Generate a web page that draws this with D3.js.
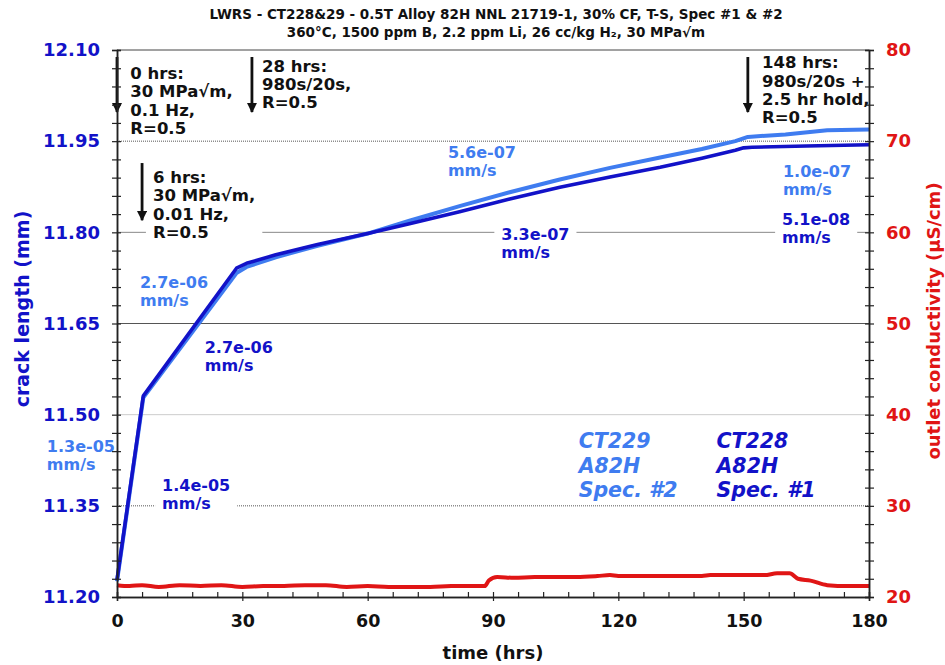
<!DOCTYPE html>
<html lang="en">
<head>
<meta charset="UTF-8">
<title>Crack length vs time</title>
<script src="https://d3js.org/d3.v7.min.js"></script>
<style>
  body { margin: 0; background: #fff; }
  svg text { font-family: "DejaVu Sans", Verdana, sans-serif; font-weight: bold; }
</style>
</head>
<body>
<div id="chart"></div>
<script>
// crack length, CT228 Spec #1 (dark blue)
const spec1Hours = [0, 6.3, 28.6, 31, 38, 48, 60, 70, 82, 94, 106, 118, 130, 140, 148, 150, 152, 165, 180];
const spec1Crack = [11.228, 11.531, 11.741, 11.749, 11.763, 11.780, 11.798, 11.814, 11.834, 11.855, 11.874, 11.891, 11.907, 11.922, 11.935, 11.939, 11.940, 11.942, 11.944];
// crack length, CT229 Spec #2 (light blue)
const spec2Hours = [0, 6.3, 28.6, 31, 38, 48, 60, 70, 82, 94, 106, 118, 130, 140, 148, 151, 160, 170, 180];
const spec2Crack = [11.226, 11.528, 11.733, 11.743, 11.759, 11.778, 11.798, 11.819, 11.843, 11.866, 11.887, 11.906, 11.923, 11.937, 11.950, 11.957, 11.961, 11.968, 11.969];
// outlet conductivity (red)
const condHours = [0, 3, 6, 10, 15, 20, 25, 30, 35, 40, 45, 50, 55, 60, 65, 70, 75, 80, 85, 88, 89, 91, 95, 100, 110, 115, 118, 120, 130, 140, 142, 150, 155, 158, 161, 163, 166, 170, 175, 180];
const condValues = [21.3, 21.2, 21.3, 21.1, 21.3, 21.2, 21.3, 21.1, 21.2, 21.2, 21.3, 21.3, 21.1, 21.2, 21.1, 21.1, 21.1, 21.2, 21.2, 21.2, 21.8, 22.2, 22.1, 22.2, 22.2, 22.3, 22.4, 22.3, 22.3, 22.3, 22.4, 22.4, 22.4, 22.6, 22.6, 22.0, 21.8, 21.3, 21.2, 21.2];

const crackTicks = [11.20, 11.35, 11.50, 11.65, 11.80, 11.95, 12.10];
const condTicks = [20, 30, 40, 50, 60, 70, 80];
const timeTicks = [0, 30, 60, 90, 120, 150, 180];

const titleLines = ["LWRS - CT228&29 - 0.5T Alloy 82H NNL 21719-1, 30% CF, T-S, Spec #1 & #2",
                    "360°C, 1500 ppm B, 2.2 ppm Li, 26 cc/kg H₂, 30 MPa√m"];

// load change notes: arrow hour, arrow top / tip (crack value), text hour and first baseline
const loadNotes = [
  { hour: 0, top: 12.0885, tip: 11.998, tx: 3.2, ty: 12.052, lines: ["0 hrs:", "30 MPa√m,", "0.1 Hz,", "R=0.5"] },
  { hour: 6.0, top: 11.914, tip: 11.820, tx: 8.6, ty: 11.881, lines: ["6 hrs:", "30 MPa√m,", "0.01 Hz,", "R=0.5"] },
  { hour: 32.3, top: 12.0885, tip: 11.998, tx: 34.7, ty: 12.064, lines: ["28 hrs:", "980s/20s,", "R=0.5"] },
  { hour: 151.0, top: 12.0885, tip: 11.998, tx: 154.4, ty: 12.070, lines: ["148 hrs:", "980s/20s +", "2.5 hr hold,", "R=0.5"] }
];

// crack growth rate labels: hour, crack value (first baseline), series
const rateNotes = [
  { hour: -16.8, val: 11.439, text: ["1.3e-05", "mm/s"], s: 2 },
  { hour: 10.8, val: 11.374, text: ["1.4e-05", "mm/s"], s: 1 },
  { hour: 5.5, val: 11.708, text: ["2.7e-06", "mm/s"], s: 2 },
  { hour: 21, val: 11.601, text: ["2.7e-06", "mm/s"], s: 1 },
  { hour: 79.2, val: 11.922, text: ["5.6e-07", "mm/s"], s: 2 },
  { hour: 92, val: 11.787, text: ["3.3e-07", "mm/s"], s: 1 },
  { hour: 159.4, val: 11.891, text: ["1.0e-07", "mm/s"], s: 2 },
  { hour: 159.2, val: 11.812, text: ["5.1e-08", "mm/s"], s: 1 }
];

const legendNotes = [
  { hour: 110.5, val: 11.445, text: ["CT229", "A82H", "Spec. #2"], s: 2 },
  { hour: 143.5, val: 11.445, text: ["CT228", "A82H", "Spec. #1"], s: 1 }
];

const DARK = "#1212c8";
const LIGHT = "#3f7cf0";
const RED = "#e01515";
const seriesColor = s => s === 1 ? DARK : LIGHT;

const W = 945, H = 665;
const margin = { top: 50, right: 76, bottom: 68, left: 117 };
const w = W - margin.left - margin.right;
const h = H - margin.top - margin.bottom;

const svg = d3.select("#chart").append("svg").attr("width", W).attr("height", H);
const g = svg.append("g").attr("transform", `translate(${margin.left},${margin.top})`);

const x = d3.scaleLinear().domain([0, 180]).range([0, w]);
const y = d3.scaleLinear().domain([11.20, 12.10]).range([h, 0]);
const y2 = d3.scaleLinear().domain([20, 80]).range([h, 0]);

// title
svg.append("g").selectAll("text").data(titleLines).join("text")
  .attr("x", 496).attr("y", (d, i) => 19 + i * 18)
  .attr("text-anchor", "middle").style("font-size", "13.5px").attr("fill", "#111")
  .text(d => d);

// grid lines
const gridStyle = {
  "12.1": { c: "#444", dash: null },
  "11.95": { c: "#555", dash: "1,1" },
  "11.8": { c: "#888", dash: null },
  "11.65": { c: "#555", dash: null },
  "11.5": { c: "#ccc", dash: null },
  "11.35": { c: "#555", dash: "1,1" }
};
g.append("g").selectAll("line").data(crackTicks.slice(1)).join("line")
  .attr("x1", 0).attr("x2", w)
  .attr("y1", d => y(d)).attr("y2", d => y(d))
  .attr("stroke", d => gridStyle[String(+d.toFixed(2))].c)
  .attr("stroke-dasharray", d => gridStyle[String(+d.toFixed(2))].dash)
  .attr("stroke-width", 1);

// text block with a white backing box so grid lines break around it
function textBlock(parent, px, py, lines, opts) {
  const grp = parent.append("g");
  const bg = grp.append("rect").attr("fill", "#fff");
  const t = grp.append("text").attr("x", px).attr("y", py)
    .attr("fill", opts.color).style("font-size", opts.size + "px")
    .style("font-style", opts.italic ? "italic" : "normal");
  lines.forEach((ln, i) => {
    t.append("tspan").attr("x", px).attr("dy", i === 0 ? 0 : opts.lh).text(ln);
  });
  if (opts.bg) {
    const b = t.node().getBBox();
    bg.attr("x", b.x - 7).attr("y", b.y - 1).attr("width", b.width + 14).attr("height", b.height + 2);
  }
  return grp;
}

rateNotes.forEach(n => {
  textBlock(g, x(n.hour), y(n.val), n.text, { color: seriesColor(n.s), size: 16, lh: 18, bg: true });
});

loadNotes.forEach(n => {
  textBlock(g, x(n.tx), y(n.ty), n.lines, { color: "#111", size: 16.5, lh: 18.3, bg: true });
});

legendNotes.forEach(n => {
  textBlock(g, x(n.hour), y(n.val), n.text, { color: seriesColor(n.s), size: 20.5, lh: 24.5, italic: true, bg: false });
});

// arrows
svg.append("defs").append("marker")
  .attr("id", "head").attr("viewBox", "0 0 10 10").attr("refX", 9).attr("refY", 5)
  .attr("markerWidth", 3.6).attr("markerHeight", 3.6).attr("orient", "auto")
  .append("path").attr("d", "M0,0 L10,5 L0,10 Z").attr("fill", "#111");
g.append("g").selectAll("line").data(loadNotes).join("line")
  .attr("x1", d => x(d.hour)).attr("x2", d => x(d.hour))
  .attr("y1", d => y(d.top)).attr("y2", d => y(d.tip))
  .attr("stroke", "#111").attr("stroke-width", 2.8)
  .attr("marker-end", "url(#head)");

// data lines
const crackLine = (hrs) => d3.line().x((d, i) => x(hrs[i])).y(d => y(d));
g.append("path").datum(spec2Crack).attr("d", crackLine(spec2Hours))
  .attr("fill", "none").attr("stroke", LIGHT).attr("stroke-width", 4).attr("stroke-linejoin", "round");
g.append("path").datum(spec1Crack).attr("d", crackLine(spec1Hours))
  .attr("fill", "none").attr("stroke", DARK).attr("stroke-width", 3.6).attr("stroke-linejoin", "round");
g.append("path").datum(condValues)
  .attr("d", d3.line().x((d, i) => x(condHours[i])).y(d => y2(d)).curve(d3.curveMonotoneX))
  .attr("fill", "none").attr("stroke", RED).attr("stroke-width", 4);

// axes
const minorCrack = d3.range(0, 31).map(i => 11.20 + i * 0.03);
const minorCond = d3.range(0, 31).map(i => 20 + i * 2);
const minorTime = d3.range(0, 31).map(i => i * 6);

function styleAxis(sel) {
  sel.attr("font-family", null);
  sel.select(".domain").attr("stroke", "#222").attr("stroke-width", 1.5);
  sel.selectAll(".tick line").attr("stroke", "#222").attr("stroke-width", 1.2);
}

// left
g.append("g").call(d3.axisLeft(y).tickValues(minorCrack).tickSize(5).tickFormat("")).call(styleAxis);
g.append("g").call(d3.axisRight(y).tickValues(minorCrack).tickSize(4).tickFormat("")).call(styleAxis);
g.append("g").call(d3.axisLeft(y).tickValues(crackTicks).tickSize(0).tickPadding(17).tickFormat(d3.format(".2f")))
  .call(s => s.attr("font-family", null).select(".domain").remove())
  .call(s => s.selectAll("text").attr("fill", DARK).style("font-size", "18px"));

// right
g.append("g").attr("transform", `translate(${w},0)`)
  .call(d3.axisRight(y2).tickValues(minorCond).tickSize(5).tickFormat("")).call(styleAxis);
g.append("g").attr("transform", `translate(${w},0)`)
  .call(d3.axisLeft(y2).tickValues(minorCond).tickSize(4).tickFormat("")).call(styleAxis);
g.append("g").attr("transform", `translate(${w},0)`)
  .call(d3.axisRight(y2).tickValues(condTicks).tickSize(0).tickPadding(17))
  .call(s => s.attr("font-family", null).select(".domain").remove())
  .call(s => s.selectAll("text").attr("fill", RED).style("font-size", "18px"));

// bottom
g.append("g").attr("transform", `translate(0,${h})`)
  .call(d3.axisTop(x).tickValues(minorTime).tickSize(5).tickFormat("")).call(styleAxis);
g.append("g").attr("transform", `translate(0,${h})`)
  .call(d3.axisBottom(x).tickValues(timeTicks).tickSize(4).tickPadding(14)).call(styleAxis)
  .call(s => s.selectAll("text").attr("fill", "#111").style("font-size", "17.5px"));

// axis titles
svg.append("text").attr("transform", `translate(29,309) rotate(-90)`)
  .attr("text-anchor", "middle").attr("fill", DARK).style("font-size", "19px").text("crack length (mm)");
svg.append("text").attr("transform", `translate(940,321) rotate(-90)`)
  .attr("text-anchor", "middle").attr("fill", RED).style("font-size", "18px").text("outlet conductivity (µS/cm)");
svg.append("text").attr("x", margin.left + w / 2).attr("y", 659)
  .attr("text-anchor", "middle").attr("fill", "#111").style("font-size", "18px").text("time (hrs)");
</script>
</body>
</html>
